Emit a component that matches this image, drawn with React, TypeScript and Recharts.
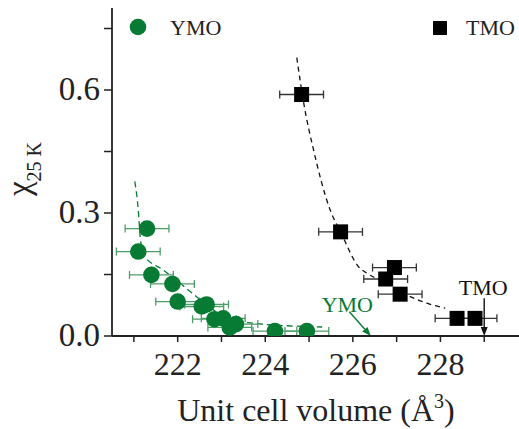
import React from "react";
import {
  ComposedChart, Scatter, Line, XAxis, YAxis, ErrorBar, ReferenceLine,
} from "recharts";

// YMO (green circles)
const ymoVolume = [221.1, 221.3, 221.4, 221.88, 222.0, 222.55, 222.66, 222.84, 223.04, 223.19, 223.33, 224.22, 224.95];
const ymoChi = [0.206, 0.262, 0.149, 0.127, 0.084, 0.072, 0.077, 0.041, 0.043, 0.021, 0.029, 0.012, 0.012];
const ymoErr = [0.5, 0.5, 0.5, 0.5, 0.5, 0.5, 0.5, 0.5, 0.5, 0.5, 0.5, 0.5, 0.5];

// TMO (black squares)
const tmoVolume = [224.83, 225.72, 226.95, 226.75, 227.08, 228.38, 228.79];
const tmoChi = [0.589, 0.254, 0.167, 0.139, 0.102, 0.043, 0.043];
const tmoErr = [0.5, 0.5, 0.5, 0.5, 0.5, 0.5, 0.5];

// guide-to-the-eye dashed curves
const ymoGuideX = [221.02, 221.1, 221.15, 221.25, 221.67, 222.05, 222.43, 222.8, 223.12, 223.73, 224.49, 225.3];
const ymoGuideY = [0.377, 0.308, 0.235, 0.194, 0.161, 0.129, 0.096, 0.065, 0.041, 0.031, 0.025, 0.022];
const tmoGuideX = [224.72, 224.89, 225.1, 225.48, 225.72, 226.13, 226.32, 226.7, 227.16, 227.69, 228.11];
const tmoGuideY = [0.679, 0.561, 0.455, 0.308, 0.254, 0.169, 0.153, 0.132, 0.104, 0.08, 0.068];

const xTicks = [221, 222, 223, 224, 225, 226, 227, 228, 229];
const xLabels = [222, 224, 226, 228];
const yTicks = [0, 0.15, 0.3, 0.45, 0.6, 0.75];
const yLabels = ["0.0", "0.3", "0.6"];

const zip = (xs: number[], ys: number[], es?: number[]) =>
  xs.map((x, i) => ({ x, y: ys[i], ex: es ? es[i] : 0 }));

const ymoData = zip(ymoVolume, ymoChi, ymoErr);
const tmoData = zip(tmoVolume, tmoChi, tmoErr);
const ymoGuide = zip(ymoGuideX, ymoGuideY);
const tmoGuide = zip(tmoGuideX, tmoGuideY);

const GREEN = "#077a34";
const FONT = "Liberation Serif, Times New Roman, serif";

const XTick = (props: any) => {
  const v = props.payload.value;
  if (!xLabels.includes(v)) return null;
  return (
    <text x={props.x} y={props.y + 31} textAnchor="middle" fontSize={32} fontFamily={FONT} fill="#222">
      {v}
    </text>
  );
};

const YTick = (props: any) => {
  const v = props.payload.value;
  const label = yLabels.find((l) => Math.abs(parseFloat(l) - v) < 1e-6);
  if (!label) return null;
  return (
    <text x={props.x - 2} y={props.y + 10} textAnchor="end" fontSize={33} fontFamily={FONT} fill="#222">
      {label}
    </text>
  );
};

const Circle = (props: any) => <circle cx={props.cx} cy={props.cy} r={8.3} fill={GREEN} />;
const Square = (props: any) => (
  <rect x={props.cx - 7.5} y={props.cy - 7.5} width={15} height={15} fill="#000" />
);

const Arrow = (color: string, text: string, dx: number, dy: number) => (props: any) => {
  const { x1, y1, x2, y2 } = props;
  const ang = Math.atan2(y2 - y1, x2 - x1);
  const len = 9;
  const w = 3.5;
  const bx = x2 - len * Math.cos(ang);
  const by = y2 - len * Math.sin(ang);
  const px = -Math.sin(ang) * w;
  const py = Math.cos(ang) * w;
  return (
    <g>
      <line x1={x1} y1={y1} x2={bx} y2={by} stroke={color} strokeWidth={1.4} />
      <polygon points={`${x2},${y2} ${bx + px},${by + py} ${bx - px},${by - py}`} fill={color} />
      <text x={x1 + dx} y={y1 + dy} textAnchor="middle" fontSize={22} fontFamily={FONT} fill={color}>
        {text}
      </text>
    </g>
  );
};

export default function App() {
  return (
    <div style={{ position: "fixed", left: 0, top: 0, width: 519, height: 429, overflow: "hidden", background: "#fff" }}>
      <ComposedChart width={528} height={429} margin={{ top: 8, right: 0, left: 0, bottom: 0 }}>
        <XAxis
          xAxisId="top"
          orientation="top"
          type="number"
          dataKey="x"
          domain={[220.5, 230]}
          height={0}
          tick={false}
          tickLine={false}
          axisLine={{ stroke: "#222", strokeWidth: 1.8 }}
        />
        <XAxis
          type="number"
          dataKey="x"
          domain={[220.5, 230]}
          ticks={xTicks}
          height={93}
          tick={<XTick />}
          tickSize={6}
          tickLine={{ stroke: "#222", strokeWidth: 1.5 }}
          axisLine={{ stroke: "#222", strokeWidth: 1.8 }}
          allowDataOverflow
          label={{
            content: () => (
              <text x={316} y={421} textAnchor="middle" fontSize={32} fontFamily={FONT} fill="#222">
                Unit cell volume (Å<tspan dy={-13} fontSize={20}>3</tspan>
                <tspan dy={13}>)</tspan>
              </text>
            ),
          }}
        />
        <YAxis
          type="number"
          dataKey="y"
          domain={[0, 0.8]}
          ticks={yTicks}
          width={112}
          tick={<YTick />}
          tickSize={8}
          tickLine={{ stroke: "#222", strokeWidth: 1.5 }}
          axisLine={{ stroke: "#222", strokeWidth: 1.8 }}
          allowDataOverflow
          label={{
            content: () => (
              <text x={30} y={169} transform="rotate(-90, 30, 169)" textAnchor="middle" fontFamily={FONT} fill="#222">
                <tspan fontSize={33}>χ</tspan>
                <tspan fontSize={20} dy={11}>25 K</tspan>
              </text>
            ),
          }}
        />
        <Line
          data={ymoGuide}
          dataKey="y"
          type="monotone"
          stroke={GREEN}
          strokeWidth={1.3}
          strokeDasharray="6 4"
          dot={false}
          activeDot={false}
          isAnimationActive={false}
        />
        <Line
          data={tmoGuide}
          dataKey="y"
          type="monotone"
          stroke="#111"
          strokeWidth={1.3}
          strokeDasharray="5 4"
          dot={false}
          activeDot={false}
          isAnimationActive={false}
        />
        <Scatter data={ymoData} shape={<Circle />} isAnimationActive={false}>
          <ErrorBar dataKey="ex" direction="x" width={4} stroke="#4c9e67" strokeWidth={1.3} />
        </Scatter>
        <Scatter data={tmoData} shape={<Square />} isAnimationActive={false}>
          <ErrorBar dataKey="ex" direction="x" width={4} stroke="#333" strokeWidth={1.3} />
        </Scatter>
        <ReferenceLine
          segment={[{ x: 225.92, y: 0.059 }, { x: 226.41, y: 0 }]}
          shape={Arrow(GREEN, "YMO", -2, 0)}
        />
        <ReferenceLine
          segment={[{ x: 229.0, y: 0.092 }, { x: 229.0, y: 0 }]}
          shape={Arrow("#111", "TMO", -1, -3)}
        />
      </ComposedChart>
      <svg width={519} height={60} style={{ position: "absolute", left: 0, top: 0 }}>
        <circle cx={138} cy={27} r={8.3} fill={GREEN} />
        <text x={170} y={35} fontSize={22} fontFamily={FONT} fill="#222">YMO</text>
        <rect x={433} y={21} width={14} height={14} fill="#000" />
        <text x={466} y={35} fontSize={22} fontFamily={FONT} fill="#222">TMO</text>
      </svg>
    </div>
  );
}
